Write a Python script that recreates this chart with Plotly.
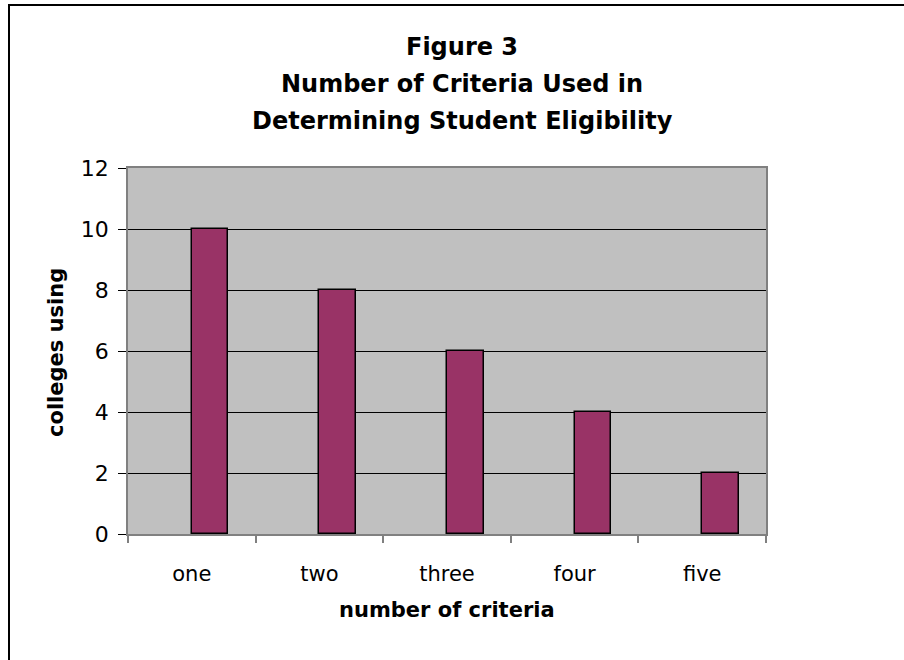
import plotly.graph_objects as go

categories = ["one", "two", "three", "four", "five"]
colleges = [10, 8, 6, 4, 2]
y_ticks = [0, 2, 4, 6, 8, 10, 12]
title_lines = ["Figure 3", "Number of Criteria Used in", "Determining Student Eligibility"]
x_title = "number of criteria"
y_title = "colleges using"

W, H = 904, 660
L, R, T, B = 128, 138, 168, 126
pw, ph = W - L - R, H - T - B

def px_x(x):
    return (x - L) / pw

def px_y(y):
    return 1 - (y - T) / ph

fig = go.Figure()
fig.add_trace(go.Bar(
    x=categories, y=colleges,
    marker=dict(color="#993366", line=dict(color="black", width=1.5)),
    width=0.287, offset=0,
    showlegend=False,
))

font = "DejaVu Sans, Arial, sans-serif"

annotations = []
for i, line in enumerate(title_lines):
    annotations.append(dict(
        text="<b>%s</b>" % line, showarrow=False,
        xref="paper", yref="paper",
        x=px_x(462), y=px_y(47 + 37 * i),
        xanchor="center", yanchor="middle",
        font=dict(size=24, family=font, color="black"),
    ))
annotations.append(dict(
    text="<b>%s</b>" % x_title, showarrow=False,
    xref="paper", yref="paper", x=px_x(447), y=px_y(610),
    xanchor="center", yanchor="middle",
    font=dict(size=21, family=font, color="black"),
))
annotations.append(dict(
    text="<b>%s</b>" % y_title, showarrow=False, textangle=-90,
    xref="paper", yref="paper", x=px_x(56), y=px_y(353),
    xanchor="center", yanchor="middle",
    font=dict(size=21, family=font, color="black"),
))

fig.update_layout(
    width=W, height=H,
    margin=dict(l=L, r=R, t=T, b=B),
    paper_bgcolor="white",
    plot_bgcolor="#C0C0C0",
    font=dict(family=font, color="black", size=21),
    xaxis=dict(
        type="category",
        range=[-0.5, 4.5],
        showline=True, linecolor="#808080", linewidth=1.5, mirror=True,
        ticks="outside", tickson="boundaries", ticklen=7, tickcolor="#808080", tickwidth=1.5,
        showgrid=False,
        tickfont=dict(size=21),
        ticklabelstandoff=20,
    ),
    yaxis=dict(
        range=[0, 12],
        tickvals=y_ticks,
        showline=True, linecolor="#808080", linewidth=1.5, mirror=True,
        ticks="outside", ticklen=8, tickcolor="black",
        showgrid=True, gridcolor="black", gridwidth=1,
        zeroline=True, zerolinecolor="black", zerolinewidth=1,
        tickfont=dict(size=22),
        ticklabelstandoff=5,
    ),
    bargap=0,
    annotations=annotations,
    shapes=[dict(
        type="rect", xref="paper", yref="paper",
        x0=px_x(9), x1=px_x(W + 60), y0=px_y(H + 60), y1=px_y(5),
        line=dict(color="black", width=2), fillcolor="rgba(0,0,0,0)", layer="above",
    )],
)

fig.write_html("out.html")
